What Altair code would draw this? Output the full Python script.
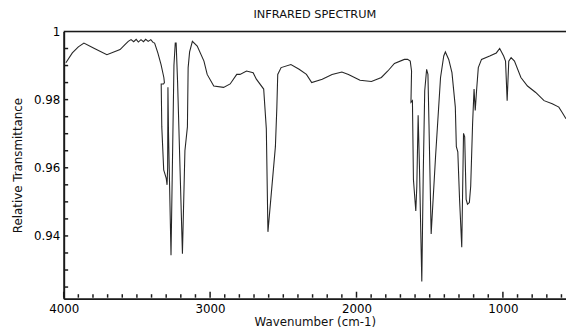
import altair as alt
import pandas as pd

# Wavenumber (cm-1), in trace order
wavenumber = [3985, 3941, 3900, 3862, 3790, 3705, 3615, 3580, 3559, 3540, 3522, 3505,
              3490, 3472, 3455, 3440, 3423, 3405, 3390, 3379, 3357, 3335, 3316, 3312,
              3318, 3334, 3330, 3317, 3300, 3294, 3290, 3288, 3284, 3267, 3247, 3238,
              3232, 3222, 3189, 3172, 3155, 3150, 3140, 3121, 3088, 3042, 3020, 2975,
              2908, 2863, 2818, 2796, 2751, 2706, 2684, 2634, 2616, 2605, 2554, 2544,
              2538, 2515, 2448, 2392, 2342, 2306, 2234, 2167, 2100, 2055, 1976, 1898,
              1830, 1786, 1741, 1673, 1651, 1633, 1624, 1628, 1618, 1611, 1595, 1588,
              1579, 1570, 1554, 1544, 1534, 1521, 1512, 1505, 1490, 1460, 1426, 1404,
              1393, 1370, 1348, 1325, 1318, 1308, 1296, 1281, 1269, 1261, 1251, 1242,
              1229, 1220, 1207, 1197, 1189, 1180, 1168, 1146, 1090, 1045, 1022, 995,
              982, 971, 960, 944, 921, 877, 832, 776, 719, 663, 618, 596, 569]

# Relative transmittance
transmittance = [0.9908, 0.9937, 0.9955, 0.9966, 0.9950, 0.9932, 0.9947, 0.9962, 0.9971, 0.9976,
                 0.9970, 0.9977, 0.9969, 0.9976, 0.9970, 0.9977, 0.9971, 0.9976, 0.9968, 0.9966,
                 0.9937, 0.9903, 0.9865, 0.9850, 0.9846, 0.9846, 0.9720, 0.9594, 0.9570, 0.9550,
                 0.9600, 0.9836, 0.9700, 0.9343, 0.9900, 0.9966, 0.9966, 0.9850, 0.9348, 0.9650,
                 0.9720, 0.9894, 0.9940, 0.9971, 0.9957, 0.9913, 0.9874, 0.9840, 0.9836, 0.9846,
                 0.9874, 0.9874, 0.9884, 0.9879, 0.9860, 0.9831, 0.9715, 0.9412, 0.9662, 0.9778,
                 0.9874, 0.9894, 0.9903, 0.9889, 0.9874, 0.9850, 0.9860, 0.9874, 0.9881, 0.9874,
                 0.9857, 0.9853, 0.9865, 0.9884, 0.9906, 0.9918, 0.9918, 0.9913, 0.9884, 0.9792,
                 0.9797, 0.9565, 0.9473, 0.9546, 0.9754, 0.9604, 0.9266, 0.9585, 0.9826, 0.9889,
                 0.9874, 0.9730, 0.9406, 0.9633, 0.9865, 0.9928, 0.9940, 0.9918, 0.9879, 0.9778,
                 0.9662, 0.9647, 0.9507, 0.9367, 0.9701, 0.9691, 0.9507, 0.9493, 0.9498, 0.9546,
                 0.9730, 0.9831, 0.9768, 0.9826, 0.9894, 0.9918, 0.9928, 0.9937, 0.9950, 0.9928,
                 0.9913, 0.9797, 0.9913, 0.9923, 0.9913, 0.9865, 0.9840, 0.9821, 0.9797, 0.9788,
                 0.9778, 0.9763, 0.9744]

x_labels = [4000, 3000, 2000, 1000]
x_minor_ticks = list(range(3900, 500, -100))
y_labels = [0.94, 0.96, 0.98, 1.0]
y_minor_ticks = [0.925, 0.93, 0.935, 0.94, 0.945, 0.95, 0.955, 0.96, 0.965, 0.97,
                 0.975, 0.98, 0.985, 0.99, 0.995]

df = pd.DataFrame({"wn": wavenumber, "t": transmittance, "i": range(len(wavenumber))})
xminor_df = pd.DataFrame({"wn": [v for v in x_minor_ticks if v not in x_labels]})
xmajor_df = pd.DataFrame({"wn": x_labels})
yminor_df = pd.DataFrame({"t": y_minor_ticks})
one_df = pd.DataFrame({"k": [0]})

W = 509.5
H = 271
FONT = "DejaVu Sans"
INK = "#1a1a1a"
xs = alt.Scale(domain=[4000, 569], nice=False, zero=False)
ys = alt.Scale(domain=[0.9216, 1.0], nice=False, zero=False)

main = alt.Chart(df).mark_line(color="#262626", strokeWidth=1.1, clip=True).encode(
    x=alt.X("wn:Q", scale=xs, axis=alt.Axis(
        orient="bottom", values=x_labels, format="d", ticks=False, grid=False, domainWidth=2,
        domainColor=INK, labelFont=FONT, labelFontSize=12, labelColor="#000000",
        labelPadding=5, title="Wavenumber (cm-1)", titleFont=FONT, titleFontSize=12,
        titleFontWeight="normal", titleColor="#111111", titlePadding=2, labelFlush=False)),
    y=alt.Y("t:Q", scale=ys, axis=alt.Axis(
        orient="left", values=y_labels, format="~g", ticks=False, grid=False, domainWidth=2,
        domainColor=INK, labelFont=FONT, labelFontSize=12, labelColor="#000000",
        labelPadding=4, title="Relative Transmittance", titleFont=FONT, titleFontSize=12,
        titleFontWeight="normal", titleColor="#111111", titlePadding=9)),
    order="i:Q",
)

xminor = alt.Chart(xminor_df).mark_rule(color=INK, strokeWidth=1.5).encode(
    x=alt.X("wn:Q", scale=xs),
    y=alt.value(H - 1),
    y2=alt.value(H - 4.5),
)

xmajor = alt.Chart(xmajor_df).mark_rule(color=INK, strokeWidth=1.5).encode(
    x=alt.X("wn:Q", scale=xs),
    y=alt.value(H - 1),
    y2=alt.value(H - 7),
)

yminor = alt.Chart(yminor_df).mark_rule(color=INK, strokeWidth=1.5).encode(
    y=alt.Y("t:Q", scale=ys),
    x=alt.value(1),
    x2=alt.value(4.5),
)

topline = alt.Chart(one_df).mark_rule(color=INK, strokeWidth=1.5).encode(
    x=alt.value(0),
    x2=alt.value(W),
    y=alt.value(0),
)

chart = alt.layer(main, xminor, xmajor, yminor, topline).properties(
    width=W,
    height=H,
    title=alt.TitleParams("INFRARED SPECTRUM", font=FONT, fontSize=11.5,
                          fontWeight="normal", color="#111111", offset=5, anchor="middle"),
    autosize=alt.AutoSizeParams(type="none"),
    padding={"left": 56.5, "top": 21.5, "right": 0, "bottom": 29.5},
).configure_view(stroke=None).configure(background="white")

chart.save("out.html", embed_options={"renderer": "svg", "actions": False})
